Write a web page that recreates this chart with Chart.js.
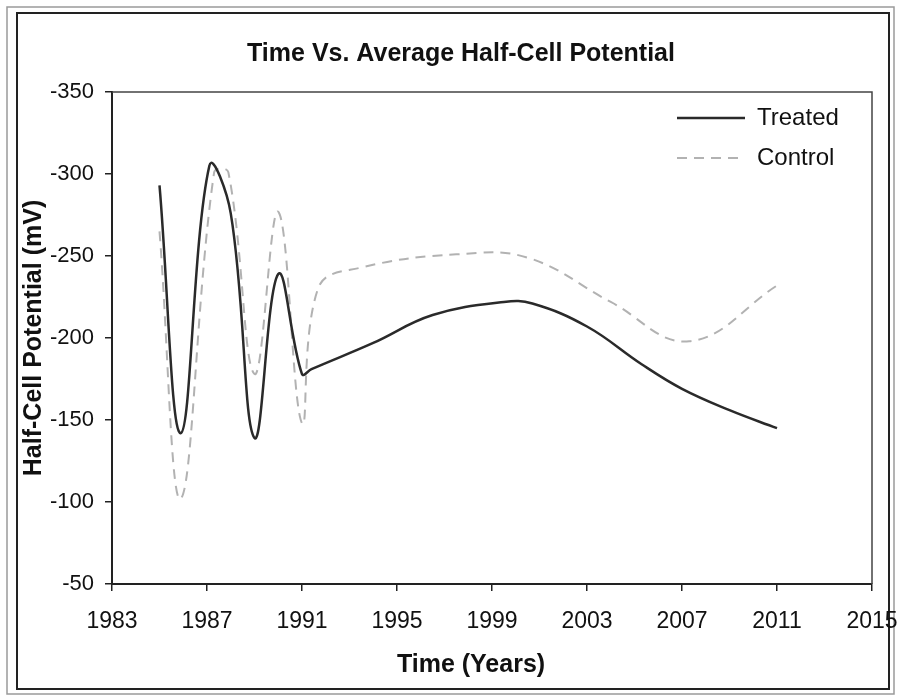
<!DOCTYPE html>
<html>
<head>
<meta charset="utf-8">
<title>Time Vs. Average Half-Cell Potential</title>
<script src="https://cdn.jsdelivr.net/npm/chart.js@4.4.0/dist/chart.umd.min.js"></script>
<style>
    html, body { margin: 0; padding: 0; background: #fff; }
    canvas { display: block; }
</style>
</head>
<body>
<canvas id="chart" width="898" height="697"></canvas>
<script>
// values (year, mV)
const treatedYears = [1985, 1985.9, 1987.1, 1988, 1989, 1990, 1991, 1991.4, 1994, 1996.5, 1999.5, 2000.7, 2003, 2005.3, 2007, 2009, 2011];
const treatedValues = [-293, -142, -305, -276, -139, -239, -178, -181, -197, -214, -222, -221, -207, -184, -169, -156, -145];

const controlYears = [1985, 1985.9, 1987.3, 1987.9, 1989, 1990, 1991, 1991.7, 1993.5, 1997.5, 2000.5, 2004, 2007.3, 2011];
const controlValues = [-265, -102, -301, -301, -178, -277, -148, -231, -243, -251, -249, -222, -198, -232];

const xTicks = [1983, 1987, 1991, 1995, 1999, 2003, 2007, 2011, 2015];
const yTicks = [-350, -300, -250, -200, -150, -100, -50];

const chartTitle = 'Time Vs. Average Half-Cell Potential';
const xTitle = 'Time (Years)';
const yTitle = 'Half-Cell Potential (mV)';

const FONT = "'Liberation Sans', Arial, sans-serif";
Chart.defaults.font.family = FONT;
Chart.defaults.color = '#111';

function toPoints(xs, ys) {
    return xs.map((x, i) => ({x: x, y: ys[i]}));
}

// frame, plot box, titles and legend
const decor = {
    id: 'decor',
    beforeDraw(chart) {
        const ctx = chart.ctx;
        ctx.save();
        ctx.fillStyle = '#fff';
        ctx.fillRect(0, 0, chart.width, chart.height);
        ctx.strokeStyle = '#9a9a9a';
        ctx.lineWidth = 1.5;
        ctx.strokeRect(7, 7, 887, 687);
        ctx.strokeStyle = '#222';
        ctx.lineWidth = 2;
        ctx.strokeRect(17, 13, 872, 676);
        ctx.restore();
    },
    afterDraw(chart) {
        const ctx = chart.ctx;
        const a = chart.chartArea;
        ctx.save();
        // top + right edge of the plot box
        ctx.strokeStyle = '#444';
        ctx.lineWidth = 1.5;
        ctx.beginPath();
        ctx.moveTo(a.left, a.top);
        ctx.lineTo(a.right, a.top);
        ctx.lineTo(a.right, a.bottom);
        ctx.stroke();

        ctx.fillStyle = '#111';
        ctx.textAlign = 'center';
        ctx.textBaseline = 'alphabetic';
        ctx.font = 'bold 25px ' + FONT;
        ctx.fillText(chartTitle, 461, 61);

        ctx.textBaseline = 'middle';
        ctx.font = 'bold 25px ' + FONT;
        ctx.fillText(xTitle, 471, 665);

        // legend
        ctx.font = '24px ' + FONT;
        ctx.textAlign = 'left';
        chart.data.datasets.forEach((ds, i) => {
            const y = 118 + i * 40;
            ctx.strokeStyle = ds.borderColor;
            ctx.lineWidth = ds.borderWidth;
            ctx.setLineDash(ds.borderDash || []);
            ctx.beginPath();
            ctx.moveTo(677, y);
            ctx.lineTo(745, y);
            ctx.stroke();
            ctx.setLineDash([]);
            ctx.fillStyle = '#111';
            ctx.fillText(ds.label, 757, y);
        });
        ctx.restore();
    }
};

new Chart(document.getElementById('chart'), {
    type: 'line',
    data: {
        datasets: [
            {
                label: 'Treated',
                data: toPoints(treatedYears, treatedValues),
                borderColor: '#2a2a2a',
                borderWidth: 2.5,
                pointRadius: 0,
                tension: 0.4,
                fill: false
            },
            {
                label: 'Control',
                data: toPoints(controlYears, controlValues),
                borderColor: '#b2b2b2',
                borderWidth: 2,
                borderDash: [10, 7],
                pointRadius: 0,
                tension: 0.4,
                fill: false
            }
        ]
    },
    options: {
        responsive: false,
        animation: false,
        devicePixelRatio: 1,
        layout: {padding: {left: 0, right: 26, top: 92, bottom: 0}},
        plugins: {
            legend: {display: false},
            title: {display: false},
            tooltip: {enabled: false}
        },
        scales: {
            x: {
                type: 'linear',
                min: 1983,
                max: 2015,
                afterBuildTicks: s => { s.ticks = xTicks.map(v => ({value: v})); },
                afterFit: s => { s.height = 113; s.paddingLeft = 0; s.paddingRight = 0; },
                ticks: {
                    callback: v => String(v),
                    font: {size: 23},
                    color: '#111',
                    padding: 17,
                    maxRotation: 0
                },
                grid: {drawOnChartArea: false, tickLength: 7, color: '#222', lineWidth: 1.5},
                border: {display: true, color: '#222', width: 2}
            },
            y: {
                type: 'linear',
                reverse: true,
                min: -350,
                max: -50,
                afterBuildTicks: s => { s.ticks = yTicks.map(v => ({value: v})); },
                afterFit: s => { s.width = 112; s.paddingTop = 0; s.paddingBottom = 0; },
                ticks: {
                    callback: v => String(v),
                    font: {size: 22},
                    color: '#111',
                    padding: 11
                },
                title: {
                    display: true,
                    text: yTitle,
                    font: {size: 25, weight: 'bold'},
                    color: '#111',
                    padding: {top: 19, bottom: 0}
                },
                grid: {drawOnChartArea: false, tickLength: 7, color: '#222', lineWidth: 1.5},
                border: {display: true, color: '#222', width: 2}
            }
        }
    },
    plugins: [decor]
});
</script>
</body>
</html>
